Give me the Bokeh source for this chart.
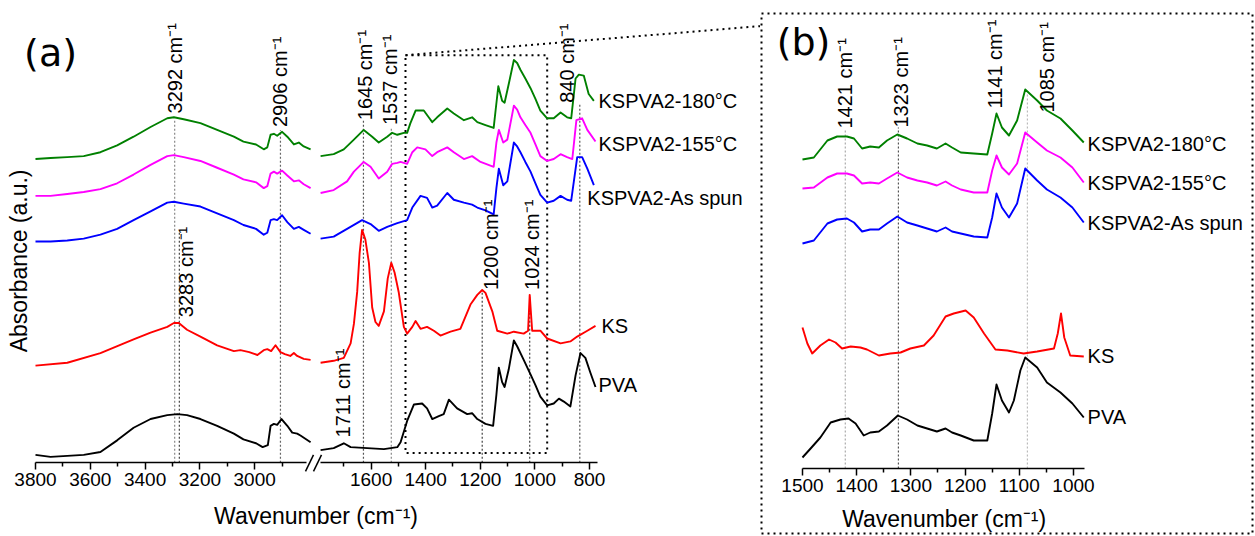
import math
from bokeh.plotting import figure
from bokeh.models import Range1d, FixedTicker, LinearAxis, ColumnDataSource
from bokeh.layouts import row
from bokeh.embed import file_html
from bokeh.resources import INLINE
from bokeh.core.properties import value

# ====================== DATA ======================
# ---- panel (a), high-wavenumber segment (3800-2800 cm-1) ----
wn_hi_grid = [3800, 3745, 3684, 3624, 3563, 3502, 3442, 3380, 3319, 3295, 3259, 3198, 3137,
              3076, 3041, 2995, 2967, 2954, 2942, 2930, 2918, 2900, 2881, 2857, 2839, 2821, 2796]
ab_180_hi = [3.13, 3.14, 3.15, 3.16, 3.20, 3.27, 3.36, 3.46, 3.55, 3.56, 3.54, 3.50, 3.43,
             3.36, 3.31, 3.28, 3.23, 3.25, 3.38, 3.39, 3.37, 3.41, 3.36, 3.28, 3.30, 3.26, 3.23]
ab_155_hi = [2.75, 2.75, 2.77, 2.79, 2.82, 2.88, 2.97, 3.07, 3.16, 3.17, 3.15, 3.11, 3.04,
             2.97, 2.92, 2.89, 2.83, 2.85, 2.98, 3.00, 2.98, 3.01, 2.96, 2.90, 2.91, 2.87, 2.83]
ab_as_hi = [2.28, 2.28, 2.29, 2.31, 2.35, 2.41, 2.50, 2.59, 2.68, 2.69, 2.67, 2.64, 2.57,
            2.50, 2.45, 2.41, 2.35, 2.37, 2.50, 2.51, 2.50, 2.55, 2.48, 2.41, 2.43, 2.40, 2.36]
wn_ks_hi = [3800, 3684, 3563, 3442, 3380, 3319, 3295, 3277, 3247, 3198, 3137, 3076, 3052,
            3020, 2990, 2967, 2954, 2940, 2924, 2906, 2890, 2870, 2857, 2845, 2821, 2796]
ab_ks_hi = [1.00, 1.03, 1.13, 1.27, 1.34, 1.40, 1.44, 1.44, 1.37, 1.30, 1.21, 1.15, 1.16,
            1.14, 1.11, 1.16, 1.17, 1.15, 1.21, 1.14, 1.12, 1.10, 1.13, 1.10, 1.07, 1.06]
wn_pva_hi = [3800, 3745, 3684, 3624, 3563, 3502, 3442, 3380, 3319, 3282, 3247, 3198, 3137,
             3076, 3041, 2995, 2971, 2952, 2942, 2930, 2918, 2902, 2881, 2863, 2845, 2833, 2796]
ab_pva_hi = [0.08, 0.06, 0.07, 0.08, 0.11, 0.23, 0.36, 0.45, 0.49, 0.50, 0.49, 0.45, 0.38,
             0.30, 0.24, 0.20, 0.16, 0.18, 0.38, 0.40, 0.39, 0.45, 0.38, 0.31, 0.30, 0.28, 0.21]

# ---- panel (a), fingerprint segment (1800-770 cm-1) ----
wn_180_lo = [1785, 1737, 1700, 1663, 1627, 1596, 1572, 1541, 1523, 1504, 1480, 1468, 1456, 1437, 1407,
             1389, 1376, 1358, 1321, 1297, 1260, 1230, 1211, 1181, 1151, 1144, 1134, 1120, 1111, 1096,
             1077, 1065, 1053, 1035, 1016, 998, 980, 955, 931, 906, 882, 867, 851, 839, 821, 803, 784]
ab_180_lo = [3.16, 3.18, 3.23, 3.33, 3.43, 3.36, 3.30, 3.36, 3.40, 3.38, 3.40, 3.40, 3.50, 3.63, 3.63,
             3.56, 3.51, 3.56, 3.65, 3.60, 3.53, 3.56, 3.51, 3.48, 3.45, 3.63, 3.88, 3.73, 3.71, 3.90,
             4.15, 4.12, 4.05, 3.96, 3.86, 3.75, 3.63, 3.55, 3.55, 3.61, 3.56, 3.55, 3.96, 4.00, 3.99,
             3.80, 3.73]
wn_155_lo = [1785, 1737, 1688, 1663, 1627, 1602, 1572, 1541, 1523, 1504, 1492, 1468, 1449, 1431, 1401,
             1376, 1358, 1321, 1297, 1260, 1230, 1199, 1151, 1141, 1132, 1116, 1101, 1077, 1065, 1053,
             1035, 1016, 998, 980, 955, 931, 906, 882, 863, 848, 827, 808, 778]
ab_155_lo = [2.78, 2.81, 2.90, 3.00, 3.10, 3.05, 2.93, 3.00, 3.08, 3.09, 3.10, 3.08, 3.20, 3.25, 3.23,
             3.16, 3.20, 3.25, 3.20, 3.13, 3.16, 3.10, 3.05, 3.30, 3.43, 3.30, 3.33, 3.68, 3.64, 3.56,
             3.48, 3.40, 3.28, 3.16, 3.11, 3.13, 3.18, 3.15, 3.13, 3.53, 3.55, 3.43, 3.31]
wn_as_lo = [1785, 1737, 1688, 1633, 1602, 1572, 1541, 1504, 1468, 1449, 1419, 1395, 1376, 1358, 1321,
            1297, 1260, 1230, 1211, 1181, 1151, 1141, 1132, 1116, 1101, 1077, 1065, 1053, 1035, 1016,
            998, 980, 955, 931, 906, 882, 867, 845, 827, 808, 784]
ab_as_lo = [2.31, 2.33, 2.41, 2.50, 2.46, 2.39, 2.43, 2.47, 2.50, 2.63, 2.75, 2.73, 2.63, 2.65, 2.78,
            2.71, 2.68, 2.66, 2.63, 2.60, 2.56, 2.83, 3.03, 2.86, 2.90, 3.30, 3.26, 3.20, 3.10, 3.00,
            2.88, 2.76, 2.68, 2.70, 2.75, 2.71, 2.70, 3.15, 3.15, 3.03, 2.86]
wn_ks_lo = [1785, 1737, 1700, 1675, 1663, 1651, 1642, 1633, 1621, 1608, 1596, 1584, 1572, 1553, 1539,
            1526, 1514, 1499, 1480, 1468, 1449, 1437, 1419, 1395, 1370, 1346, 1309, 1273, 1236, 1211,
            1193, 1181, 1156, 1138, 1101, 1077, 1041, 1025, 1019, 1010, 980, 955, 906, 870, 845, 808, 778]
ab_ks_lo = [1.03, 1.05, 1.08, 1.23, 1.43, 1.76, 2.16, 2.40, 2.30, 2.06, 1.60, 1.45, 1.41, 1.56, 1.90,
            2.06, 1.96, 1.76, 1.40, 1.33, 1.40, 1.46, 1.38, 1.40, 1.36, 1.31, 1.35, 1.38, 1.63, 1.73,
            1.78, 1.75, 1.56, 1.36, 1.33, 1.35, 1.33, 1.36, 1.73, 1.36, 1.36, 1.28, 1.23, 1.25, 1.30, 1.36, 1.41]
wn_pva_lo = [1785, 1737, 1700, 1675, 1614, 1553, 1504, 1492, 1468, 1443, 1413, 1395, 1376, 1352, 1334,
             1315, 1285, 1248, 1230, 1211, 1181, 1153, 1141, 1132, 1120, 1111, 1096, 1077, 1065, 1041,
             1016, 998, 980, 955, 931, 912, 894, 870, 851, 833, 815, 797, 778]
ab_pva_lo = [0.13, 0.15, 0.20, 0.16, 0.15, 0.14, 0.16, 0.21, 0.43, 0.60, 0.61, 0.56, 0.45, 0.48, 0.50,
             0.65, 0.56, 0.50, 0.51, 0.45, 0.40, 0.38, 0.70, 0.98, 0.83, 0.78, 0.96, 1.26, 1.20, 1.06,
             0.91, 0.80, 0.68, 0.59, 0.61, 0.66, 0.63, 0.58, 0.90, 1.13, 1.08, 0.93, 0.78]

# ---- panel (b), zoom 1500-980 cm-1 ----
wn_b_grid = [1500, 1479, 1454, 1436, 1418, 1405, 1390, 1375, 1359, 1344, 1325, 1307, 1288, 1270, 1252,
             1236, 1224, 1208, 1184, 1159, 1150, 1142, 1132, 1119, 1104, 1089, 1067, 1049, 1024, 1002, 981]
ab_180_b = [3.09, 3.11, 3.28, 3.32, 3.32, 3.30, 3.20, 3.22, 3.21, 3.28, 3.34, 3.30, 3.25, 3.23, 3.20,
            3.25, 3.21, 3.16, 3.15, 3.14, 3.35, 3.55, 3.41, 3.33, 3.48, 3.79, 3.68, 3.58, 3.50, 3.38, 3.26]
ab_155_b = [2.80, 2.81, 2.91, 2.95, 2.95, 2.93, 2.85, 2.86, 2.85, 2.90, 2.96, 2.91, 2.88, 2.86, 2.83,
            2.87, 2.83, 2.79, 2.76, 2.76, 2.98, 3.13, 3.01, 2.94, 3.05, 3.36, 3.26, 3.18, 3.11, 3.01, 2.86]
ab_as_b = [2.25, 2.28, 2.45, 2.49, 2.50, 2.46, 2.37, 2.39, 2.39, 2.45, 2.52, 2.46, 2.43, 2.40, 2.37,
           2.41, 2.37, 2.35, 2.32, 2.31, 2.51, 2.75, 2.61, 2.51, 2.65, 3.00, 2.88, 2.79, 2.71, 2.61, 2.46]
wn_ks_b = [1500, 1491, 1482, 1467, 1451, 1439, 1427, 1411, 1393, 1381, 1359, 1338, 1319, 1301, 1276,
           1258, 1236, 1221, 1199, 1184, 1165, 1144, 1122, 1092, 1067, 1036, 1029, 1023, 1017, 1006, 981]
ab_ks_b = [1.41, 1.25, 1.15, 1.23, 1.29, 1.26, 1.20, 1.22, 1.21, 1.19, 1.13, 1.15, 1.16, 1.20, 1.23,
           1.33, 1.52, 1.55, 1.58, 1.51, 1.35, 1.19, 1.18, 1.15, 1.17, 1.20, 1.35, 1.55, 1.31, 1.13, 1.12]
wn_pva_b = [1500, 1485, 1467, 1448, 1430, 1415, 1402, 1387, 1375, 1359, 1344, 1324, 1307, 1288, 1270,
            1252, 1236, 1224, 1208, 1184, 1159, 1150, 1142, 1132, 1119, 1110, 1098, 1089, 1067, 1049,
            1024, 1002, 981]
ab_pva_b = [0.11, 0.20, 0.31, 0.46, 0.49, 0.50, 0.45, 0.33, 0.36, 0.37, 0.43, 0.53, 0.49, 0.43, 0.40,
            0.37, 0.40, 0.36, 0.33, 0.28, 0.28, 0.55, 0.84, 0.68, 0.56, 0.68, 0.98, 1.11, 1.01, 0.86,
            0.76, 0.65, 0.51]

# ---- series names / colours ----
series_names = ["KSPVA2-180°C", "KSPVA2-155°C", "KSPVA2-As spun", "KS", "PVA"]
series_colors = ["#008000", "#ff00ff", "#0000ff", "#ff0000", "#000000"]

# ---- axis ticks ----
ticks_hi = [3800, 3600, 3400, 3200, 3000]
minor_hi = [3700, 3500, 3300, 3100, 2900]
ticks_lo = [1600, 1400, 1200, 1000, 800]
minor_lo = [1700, 1500, 1300, 1100, 900]
ticks_b = [1500, 1400, 1300, 1200, 1100, 1000]
minor_b = [1450, 1350, 1250, 1150, 1050]

# ---- peak annotations ----
peak_hi_text = ["3292 cm⁻¹", "2906 cm⁻¹", "3283 cm⁻¹"]
peak_hi_wn = [3292, 2906, 3249]
peak_hi_ab = [3.60, 3.46, 1.50]
peak_lo_text = ["1645 cm⁻¹", "1537 cm⁻¹", "840 cm⁻¹", "1200 cm⁻¹", "1024 cm⁻¹", "1711 cm⁻¹"]
peak_lo_wn = [1624, 1529, 881, 1159, 1009, 1703]
peak_lo_ab = [3.53, 3.48, 3.71, 1.78, 1.78, 0.26]
peak_b_text = ["1421 cm⁻¹", "1323 cm⁻¹", "1141 cm⁻¹", "1085 cm⁻¹"]
peak_b_wn = [1421, 1319, 1144, 1048]
peak_b_ab = [3.40, 3.41, 3.60, 3.56]

# ---- marker lines ----
mark_hi_wn = [3292, 3275, 2906]
mark_hi_top = [3.53, 2.38, 3.43]
mark_lo_wn = [1628, 1526, 1193, 1019, 835.5]
mark_lo_top = [3.53, 3.45, 1.78, 1.73, 3.71]
mark_b_wn = [1421, 1323, 1085]
mark_b_top = [3.40, 3.41, 3.75]
zoom_box_wn = [1474, 955]
zoom_box_ab = [0.10, 4.20]

# ---- series label positions ----
lab_a_wn = [767, 767, 808, 756, 767]
lab_a_ab = [3.73, 3.28, 2.73, 1.41, 0.80]
lab_b_wn = [974, 974, 974, 974, 974]
lab_b_ab = [3.25, 2.86, 2.46, 1.13, 0.52]

# ====================== STYLE ======================
FONT = "Liberation Sans"
mark_hi_colors = ["#888888", "#444444", "#666666"]
mark_lo_colors = ["#555555", "#888888", "#444444", "#444444", "#555555"]
mark_b_colors = ["#aaaaaa", "#555555", "#bbbbbb"]


def style_axis(ax):
    ax.axis_line_width = 1.5
    ax.axis_line_color = "black"
    ax.major_tick_line_width = 1.5
    ax.minor_tick_line_width = 1.5
    ax.major_tick_in = 0
    ax.major_tick_out = 7
    ax.minor_tick_in = 0
    ax.minor_tick_out = 4
    ax.major_label_text_font = FONT
    ax.major_label_text_font_size = "19px"
    ax.major_label_text_color = "black"
    ax.major_label_standoff = 3


def add_text(p, xs, ys, labels, size, angle=0.0, align="left", baseline="middle",
             font=FONT, x_range_name="default"):
    src = ColumnDataSource(dict(x=xs, y=ys, t=labels))
    p.text(x="x", y="y", text="t", source=src, angle=angle, text_align=align,
           text_baseline=baseline, text_font=value(font), text_font_size=value(size),
           text_color="black", x_range_name=x_range_name)


H = 536

# ====================== PANEL (a) ======================
pa = figure(width=760, height=H, x_range=Range1d(2957.5, 173.6), y_range=Range1d(-0.73, 4.63),
            x_axis_location=None, y_axis_location=None, output_backend="svg",
            toolbar_location=None, min_border_left=0, min_border_right=0,
            min_border_top=0, min_border_bottom=0)
pa.extra_x_ranges = {"hi": Range1d(3927.7, 1154.0)}
pa.outline_line_color = None
pa.grid.visible = False

ax_hi = LinearAxis(x_range_name="hi", fixed_location=0, bounds=(2810, 3800),
                   ticker=FixedTicker(ticks=ticks_hi, minor_ticks=minor_hi))
style_axis(ax_hi)
pa.add_layout(ax_hi, "below")
ax_lo = LinearAxis(fixed_location=0, bounds=(770, 1786),
                   ticker=FixedTicker(ticks=ticks_lo, minor_ticks=minor_lo))
style_axis(ax_lo)
pa.add_layout(ax_lo, "below")

# axis break marks
pa.segment(x0=[2814.6], y0=[-0.09], x1=[2785.4], y1=[0.08], x_range_name="hi",
           line_color="black", line_width=1.5)
pa.segment(x0=[1811.0], y0=[-0.09], x1=[1781.7], y1=[0.08],
           line_color="black", line_width=1.5)

# marker lines
pa.segment(x0=mark_hi_wn, y0=[0] * len(mark_hi_wn), x1=mark_hi_wn, y1=mark_hi_top,
           x_range_name="hi", line_color=mark_hi_colors, line_width=1.2, line_dash="2 2")
pa.segment(x0=mark_lo_wn, y0=[0] * len(mark_lo_wn), x1=mark_lo_wn, y1=mark_lo_top,
           line_color=mark_lo_colors, line_width=1.2, line_dash="2 2")

# zoom box and connector
pa.quad(left=[zoom_box_wn[1]], right=[zoom_box_wn[0]], bottom=[zoom_box_ab[0]], top=[zoom_box_ab[1]],
        fill_color=None, line_color="black", line_width=2, line_dash="2 4")
pa.segment(x0=[zoom_box_wn[0]], y0=[zoom_box_ab[1]], x1=[pa.x_range.end], y1=[4.50],
           line_color="black", line_width=2, line_dash="2 4")

hi_series = [(wn_hi_grid, ab_180_hi), (wn_hi_grid, ab_155_hi), (wn_hi_grid, ab_as_hi),
             (wn_ks_hi, ab_ks_hi), (wn_pva_hi, ab_pva_hi)]
lo_series = [(wn_180_lo, ab_180_lo), (wn_155_lo, ab_155_lo), (wn_as_lo, ab_as_lo),
             (wn_ks_lo, ab_ks_lo), (wn_pva_lo, ab_pva_lo)]
for (xh, yh), (xl, yl), c in zip(hi_series, lo_series, series_colors):
    pa.line(xh, yh, x_range_name="hi", line_color=c, line_width=1.9, line_join="round")
    pa.line(xl, yl, line_color=c, line_width=1.9, line_join="round")

add_text(pa, peak_hi_wn, peak_hi_ab, peak_hi_text, "20px", angle=math.pi / 2, x_range_name="hi")
add_text(pa, peak_lo_wn, peak_lo_ab, peak_lo_text, "20px", angle=math.pi / 2)
add_text(pa, lab_a_wn, lab_a_ab, series_names, "20px")
add_text(pa, [3745], [4.22], ["(a)"], "38px", align="center", font="DejaVu Sans", x_range_name="hi")
add_text(pa, [3862], [2.08], ["Absorbance (a.u.)"], "23px", angle=math.pi / 2, align="center",
         x_range_name="hi")
add_text(pa, [1801.8], [-0.55], ["Wavenumber (cm⁻¹)"], "23px", align="center")

# ====================== PANEL (b) ======================
pb = figure(width=495, height=H, x_range=Range1d(1575.6, 669.7), y_range=Range1d(-0.65, 4.55),
            x_axis_location=None, y_axis_location=None, output_backend="svg",
            toolbar_location=None, min_border_left=1, min_border_right=3,
            min_border_top=13, min_border_bottom=3)
pb.outline_line_color = "black"
pb.outline_line_width = 2
pb.outline_line_alpha = 1.0
pb.outline_line_dash = "2 4"
pb.grid.visible = False

ax_b = LinearAxis(fixed_location=0, bounds=(980, 1500),
                  ticker=FixedTicker(ticks=ticks_b, minor_ticks=minor_b))
style_axis(ax_b)
pb.add_layout(ax_b, "below")

pb.segment(x0=mark_b_wn, y0=[0] * len(mark_b_wn), x1=mark_b_wn, y1=mark_b_top,
           line_color=mark_b_colors, line_width=1.2, line_dash="2 2")

b_series = [(wn_b_grid, ab_180_b), (wn_b_grid, ab_155_b), (wn_b_grid, ab_as_b),
            (wn_ks_b, ab_ks_b), (wn_pva_b, ab_pva_b)]
for (xb, yb), c in zip(b_series, series_colors):
    pb.line(xb, yb, line_color=c, line_width=1.9, line_join="round")

add_text(pb, peak_b_wn, peak_b_ab, peak_b_text, "20px", angle=math.pi / 2)
add_text(pb, lab_b_wn, lab_b_ab, series_names, "20px")
add_text(pb, [1498], [4.27], ["(b)"], "38px", align="center", font="DejaVu Sans")
add_text(pb, [1238.6], [-0.50], ["Wavenumber (cm⁻¹)"], "23px", align="center")

layout = row(pa, pb)
open("out.html", "w").write(file_html(layout, INLINE))
